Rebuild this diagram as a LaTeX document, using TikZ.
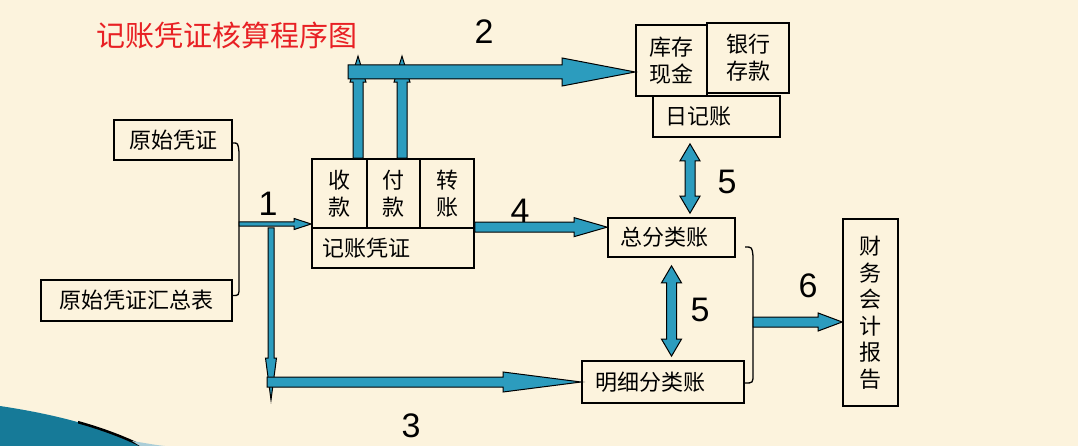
\documentclass[tikz,border=0pt]{standalone}
\usepackage{fontspec}
\setmainfont{Liberation Sans}
\newfontfamily\cjk{Noto Sans CJK SC}
\usetikzlibrary{calc}
\definecolor{bg}{RGB}{252,243,221}
\definecolor{arrowteal}{RGB}{44,156,190}
\definecolor{titlered}{RGB}{232,32,36}
\definecolor{swooshteal}{RGB}{22,122,152}
\definecolor{swooshlight}{RGB}{170,205,215}

\newcommand\blockarrow[5]{%
  \coordinate (bah) at ($(#2)!#5!(#1)$);
  \draw[blockarrow] ($(#1)!#3!90:(#2)$) -- ($(bah)!#3!90:(#2)$) -- ($(bah)!#4!90:(#2)$) -- (#2)
     -- ($(bah)!#4!-90:(#2)$) -- ($(bah)!#3!-90:(#2)$) -- ($(#1)!#3!-90:(#2)$) -- cycle;}
\newcommand\dblarrow[5]{%
  \coordinate (bha) at ($(#1)!#5!(#2)$);
  \coordinate (bhb) at ($(#2)!#5!(#1)$);
  \draw[blockarrow] (#1) -- ($(bha)!#4!90:(#2)$) -- ($(bha)!#3!90:(#2)$) -- ($(bhb)!#3!90:(#2)$)
     -- ($(bhb)!#4!90:(#2)$) -- (#2) -- ($(bhb)!#4!-90:(#2)$) -- ($(bhb)!#3!-90:(#2)$)
     -- ($(bha)!#3!-90:(#2)$) -- ($(bha)!#4!-90:(#2)$) -- cycle;}

\tikzset{
  box/.style={draw, line width=1.7pt, rectangle, inner sep=0pt, font=\cjk\fontsize{22}{27}\selectfont},
  blockarrow/.style={fill=arrowteal, draw=black, line width=1pt, line join=miter},
  num/.style={font=\fontsize{34}{34}\selectfont, inner sep=0pt},
  bracket/.style={draw=black, line width=1.3pt}
}

\begin{document}
\begin{tikzpicture}[x=1pt,y=-1pt]
\useasboundingbox (0,0) rectangle (1078,446);
\fill[bg] (0,0) rectangle (1078,446);

% decorative swoosh
\fill[swooshteal] (0,406) .. controls (60,415) and (105,428) .. (142,446) -- (0,446) -- cycle;
\begin{scope}
  \clip (78,400) rectangle (160,446);
  \draw[black, line width=2.5pt] (0,406) .. controls (60,415) and (105,428) .. (142,446);
\end{scope}
\fill[swooshlight] (132,441) .. controls (145,443) and (155,445) .. (165,446) -- (140,446) -- cycle;

% title
\node[font=\cjk\fontsize{29}{29}\selectfont, text=titlered, anchor=west, inner sep=0pt] (title) at (96,35) {记账凭证核算程序图};

% boxes
\node[box, minimum width=118pt, minimum height=40pt] (ysp) at (173,140) {原始凭证};
\node[box, minimum width=191pt, minimum height=41pt] (hzb) at (136.5,300.5) {原始凭证汇总表};
\node[box, minimum width=55pt, minimum height=69pt, align=center] (shou) at (339.5,193.5) {收\\款};
\node[box, minimum width=53pt, minimum height=69pt, align=center] (fu) at (393.5,193.5) {付\\款};
\node[box, minimum width=54pt, minimum height=69pt, align=center] (zhuan) at (447,193.5) {转\\账};
\node[box, minimum height=40pt, inner xsep=10pt, text width=142pt, align=left] (jz) at (393,248) {记账凭证};
\node[box, minimum width=71pt, minimum height=71pt, align=center] (kcxj) at (671.5,60.5) {库存\\现金};
\node[box, line width=2.8pt, minimum width=82pt, minimum height=70pt, align=center] (yhck) at (748,58) {银行\\存款};
\node[box, minimum height=41pt, inner xsep=12pt, text width=103pt, align=left] (rjz) at (716.5,116.5) {日记账};
\node[box, minimum height=39pt, inner xsep=12pt, text width=103pt, align=left] (zfl) at (671.5,237.5) {总分类账};
\node[box, minimum height=42pt, inner xsep=13pt, text width=136pt, align=left] (mxfl) at (663,382) {明细分类账};
\node[box, minimum width=55pt, minimum height=187pt, align=center, font=\cjk\fontsize{22}{26.5}\selectfont] (rep) at (870.5,312.5) {财\\务\\会\\计\\报\\告};

% brackets
\draw[bracket] ($(ysp.east)+(0,3)$) .. controls (238,143) .. (239,152) -- (239,287) .. controls (239,295.5) .. ($(hzb.east)+(0,-5)$);
\draw[bracket] (745,247) .. controls (752,247) .. (753,256) -- (753,374) .. controls (753,383) .. (745,383);

% arrows 2
\coordinate (u1s) at ($(shou.north)+(18.5,0)$);
\coordinate (u1e) at ($(u1s)+(0,-102)$);
\coordinate (u2s) at ($(fu.north)+(8.5,0)$);
\coordinate (u2e) at ($(u2s)+(0,-102)$);
\blockarrow{u1s}{u1e}{5pt}{8pt}{26pt}
\blockarrow{u2s}{u2e}{5pt}{8pt}{26pt}
\coordinate (a2s) at (348,72);
\coordinate (a2e) at (kcxj.west |- a2s);
\blockarrow{a2s}{a2e}{7pt}{14pt}{73pt}

% arrow 1
\coordinate (a1s) at (239,224);
\coordinate (a1e) at (jz.north west |- a1s);
\blockarrow{a1s}{a1e}{2.2pt}{5.5pt}{17pt}

% thin vertical and arrow 3
\coordinate (tvs) at (271,228);
\coordinate (tve) at (271,400);
\blockarrow{tvs}{tve}{3pt}{5.5pt}{42pt}
\coordinate (a3s) at (267,382);
\coordinate (a3e) at (mxfl.west);
\blockarrow{a3s}{a3e}{5pt}{10pt}{78pt}

% arrow 4
\coordinate (a4s) at (jz.north east);
\coordinate (a4e) at (zfl.west |- a4s);
\blockarrow{a4s}{a4e}{5pt}{9.5pt}{33pt}

% double arrows 5
\coordinate (d1s) at ($(rjz.south)+(-26.5,6)$);
\coordinate (d1e) at ($(d1s |- zfl.north)+(0,-4)$);
\dblarrow{d1s}{d1e}{5pt}{10pt}{17pt}
\coordinate (d2s) at ($(zfl.south)+(0,8)$);
\coordinate (d2e) at ($(zfl.south |- mxfl.north)+(0,-4)$);
\dblarrow{d2s}{d2e}{5pt}{10pt}{17pt}

% arrow 6
\coordinate (a6s) at (753,322);
\coordinate (a6e) at (rep.west |- a6s);
\blockarrow{a6s}{a6e}{5pt}{9pt}{24pt}

% numbers
\node[num] (n2) at (484,32) {2};
\node[num] (n1) at (268,204) {1};
\node[num] (n4) at (520,211) {4};
\node[num] (n5a) at (727,182) {5};
\node[num] (n5b) at (700,310) {5};
\node[num] (n6) at (808,286) {6};
\node[num] (n3) at (411,426) {3};
\end{tikzpicture}
\end{document}
